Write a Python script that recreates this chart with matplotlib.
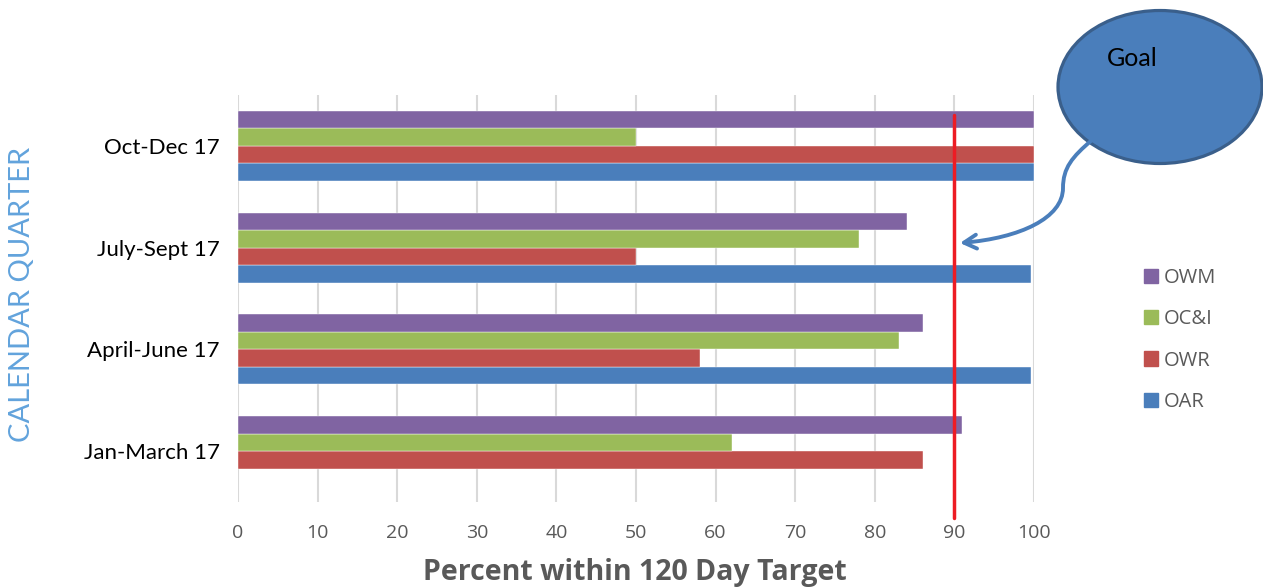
import matplotlib
matplotlib.use("Agg")
import matplotlib.pyplot as plt
import numpy as np
from matplotlib.patches import Ellipse, FancyArrowPatch, Patch
from matplotlib.path import Path
from matplotlib.transforms import blended_transform_factory

# data, bottom to top as the chart shows it
quarters = ["Jan-March 17", "April-June 17", "July-Sept 17", "Oct-Dec 17"]
series_names = ["OAR", "OWR", "OC&I", "OWM"]
oar = [np.nan, 99.6, 99.6, 100]
owr = [86, 58, 50, 100]
oci = [62, 83, 78, 50]
owm = [91, 86, 84, 100]
goal = 90
x_ticks = [0, 10, 20, 30, 40, 50, 60, 70, 80, 90, 100]

colors = {"OAR": "#4a7ebb", "OWR": "#c0504d", "OC&I": "#9bbb59", "OWM": "#8064a2"}
GRAY = "#595959"
W, H = 1263, 588

plt.rcParams["font.family"] = ["Open Sans", "DejaVu Sans"]


def px(x, y):
    # figure pixel (from top-left) -> figure fraction
    return x / W, 1 - y / H


fig = plt.figure(figsize=(W / 100, H / 100), dpi=100)
ax = fig.add_axes([238 / W, 1 - 502 / H, (1034 - 238) / W, (502 - 95) / H])

pos = np.arange(len(quarters))
bar_h = 0.1716
for i, (name, vals) in enumerate(zip(series_names, [oar, owr, oci, owm])):
    ax.barh(pos + (i - 1.5) * bar_h, vals, height=bar_h, color=colors[name],
            edgecolor="white", linewidth=0.3, zorder=2)

ax.set_xlim(0, 100)
ax.set_ylim(-0.5, len(quarters) - 0.5)
ax.set_xticks(x_ticks)
ax.set_yticks(pos)
ax.set_yticklabels(quarters, family=["Lato", "DejaVu Sans"], fontsize=16, color="black")
ax.tick_params(axis="y", length=0, pad=13)
ax.tick_params(axis="x", length=0, pad=16, labelsize=14, labelcolor=GRAY)
ax.grid(axis="x", color="#d9d9d9", linewidth=1.5, zorder=0)
for s in ax.spines.values():
    s.set_visible(False)

ax.set_xlabel("Percent within 120 Day Target", fontsize=20.5, fontweight="bold", color=GRAY)
ax.xaxis.set_label_coords(0.499, -0.172)
ax.xaxis.label.set_va("center")
ax.set_ylabel("CALENDAR QUARTER", fontsize=21, color="#62a3dc", family=["Lato", "DejaVu Sans"])
ax.yaxis.set_label_coords(-0.271, 0.509)
ax.yaxis.label.set_va("center")

# goal line
trans = blended_transform_factory(ax.transData, ax.transAxes)
ax.plot([goal, goal], [0.951, -0.039], transform=trans, color="#ed1c24", linewidth=2.5,
        clip_on=False, zorder=5, solid_capstyle="round")

# legend
handles = [Patch(color=colors[n]) for n in series_names[::-1]]
fig.legend(handles, series_names[::-1], loc="center left", bbox_to_anchor=px(1144, 340),
           frameon=False, fontsize=14.5, labelcolor=GRAY, handlelength=0.7, handleheight=0.7,
           handletextpad=0.3, labelspacing=1.05, borderpad=0, borderaxespad=0)

# goal callout
cx, cy = px(1160, 87)
fig.patches.append(Ellipse((cx, cy), 204 / W, 153 / H, transform=fig.transFigure,
                           facecolor="#4a7ebb", edgecolor="#3a5f8b", linewidth=2.3))
fig.text(*px(1107, 59), "Goal", fontsize=18, color="black", va="center", ha="left",
         family=["Lato", "DejaVu Sans"])
verts = [px(1092, 140), px(1072, 157), px(1063, 168), px(1063, 188),
         px(1063, 218), px(1020, 238), px(960, 243)]
codes = [Path.MOVETO] + [Path.CURVE4] * 6
fig.patches.append(FancyArrowPatch(path=Path(verts, codes), transform=fig.transFigure,
                                   arrowstyle="->,head_length=9,head_width=5",
                                   color="#4a7ebb", linewidth=2.8))

fig.savefig("out.png", dpi=100)
